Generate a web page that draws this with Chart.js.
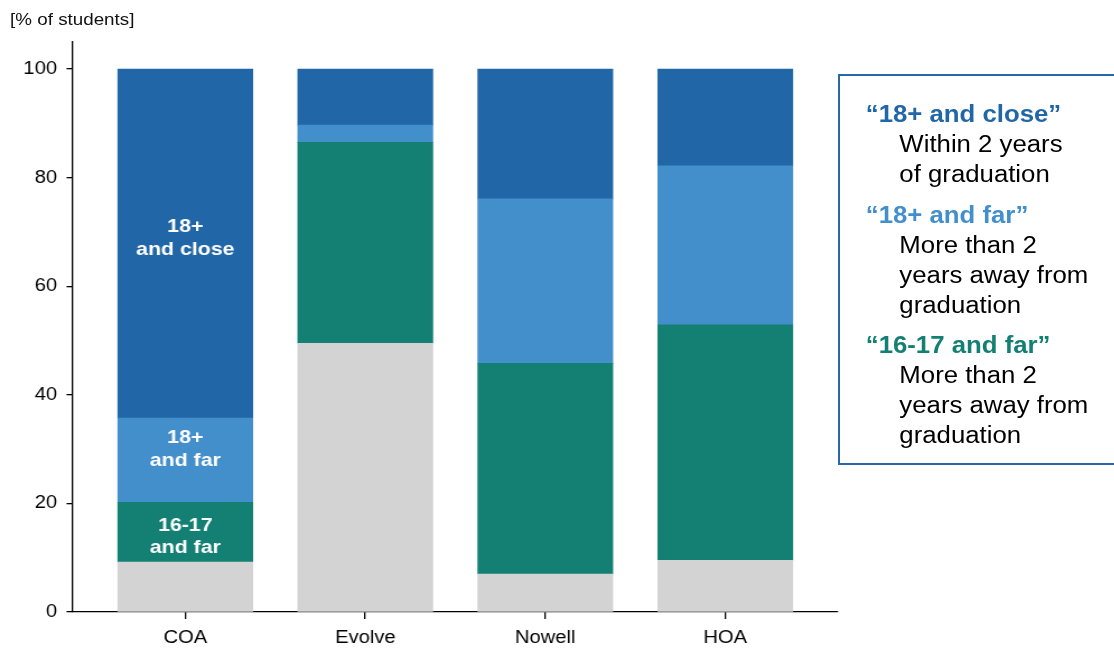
<!DOCTYPE html>
<html>
<head>
<meta charset="utf-8">
<script src="https://cdn.jsdelivr.net/npm/chart.js@4/dist/chart.umd.min.js"></script>
<style>
  html, body { margin: 0; padding: 0; background: #fff; overflow: hidden; }
  #stage {
    position: absolute; left: 0; top: 0; width: 995px; height: 650px;
    transform: scaleX(1.12); transform-origin: 0 0;
    font-family: "Liberation Sans", Arial, sans-serif; color: #000;
  }
  #chart { position: absolute; left: 0; top: 0; }
  #unit { position: absolute; left: 9px; top: 11px; font-size: 16.8px; line-height: 18px; color: #111; }
  #key {
    position: absolute; left: 748px; top: 74px; width: 300px; height: 391px;
    border: 2px solid #2767aa; padding: 23px 0 0 23px; box-sizing: border-box;
    font-size: 23px; line-height: 30px;
  }
  #key .group + .group { margin-top: 10.5px; }
  #key .head { font-weight: bold; }
  #key .body { padding-left: 30px; }
</style>
</head>
<body>
<div id="stage">
  <canvas id="chart" width="995" height="650"></canvas>
  <div id="unit">[% of students]</div>
  <div id="key">
    <div class="group">
      <div class="head" style="color:#2166a6">“18+ and close”</div>
      <div class="body">Within 2 years<br>of graduation</div>
    </div>
    <div class="group">
      <div class="head" style="color:#428fcc">“18+ and far”</div>
      <div class="body">More than 2<br>years away from<br>graduation</div>
    </div>
    <div class="group">
      <div class="head" style="color:#138073">“16-17 and far”</div>
      <div class="body">More than 2<br>years away from<br>graduation</div>
    </div>
  </div>
</div>
<script>
// Schools along the x axis
const categories = ['COA', 'Evolve', 'Nowell', 'HOA'];

// Share of students per group, % (stacked bottom to top)
const otherStudents   = [9.2, 49.5, 7.0, 9.5];
const youngFar        = [11.0, 37.0, 38.8, 43.4];   // 16-17 and far
const adultFar        = [15.5, 3.2, 30.3, 29.3];    // 18+ and far
const adultClose      = [64.3, 10.3, 23.9, 17.8];   // 18+ and close

// Y axis tick values
const yTicks = [0, 20, 40, 60, 80, 100];

// Text written inside the segments of the first bar
const noteLines = [['18+', 'and close'], ['18+', 'and far'], ['16-17', 'and far']];
const noteDatasets = [3, 2, 1];
const noteShift = [-7, -12.6, 3];
const noteBar = 0;

const FONT = '"Liberation Sans", Arial, sans-serif';
Chart.defaults.font.family = FONT;
Chart.defaults.color = '#000';

const toPoints = vals => vals.map((v, i) => ({ x: i, y: v }));

const barNotes = {
  id: 'barNotes',
  afterDatasetsDraw(chart) {
    const ctx = chart.ctx;
    ctx.save();
    ctx.fillStyle = '#ffffff';
    ctx.font = 'bold 19px ' + FONT;
    ctx.textAlign = 'center';
    ctx.textBaseline = 'alphabetic';
    noteDatasets.forEach((ds, k) => {
      const el = chart.getDatasetMeta(ds).data[noteBar];
      const p = el.getProps(['x', 'y', 'base'], true);
      const mid = (p.y + p.base) / 2 + noteShift[k];
      const lines = noteLines[k];
      const step = 22.5;
      const first = mid - (13.6 + step * (lines.length - 1)) / 2 + 13.6;
      lines.forEach((t, i) => ctx.fillText(t, p.x, first + i * step));
    });
    ctx.restore();
  }
};

new Chart(document.getElementById('chart'), {
  type: 'bar',
  data: {
    datasets: [
      { label: 'Other', data: toPoints(otherStudents), backgroundColor: '#d3d3d3' },
      { label: '16-17 and far', data: toPoints(youngFar), backgroundColor: '#138073' },
      { label: '18+ and far', data: toPoints(adultFar), backgroundColor: '#428fcc' },
      { label: '18+ and close', data: toPoints(adultClose), backgroundColor: '#2166a6' }
    ]
  },
  options: {
    responsive: false,
    animation: false,
    devicePixelRatio: 1,
    layout: { padding: { top: 42, right: 247, left: 0, bottom: 0 } },
    datasets: { bar: { barThickness: 120.5, borderWidth: 0 } },
    plugins: { legend: { display: false }, tooltip: { enabled: false } },
    scales: {
      x: {
        type: 'linear',
        offset: false,
        stacked: true,
        min: -0.625,
        max: 3.625,
        afterBuildTicks: s => { s.ticks = categories.map((_, i) => ({ value: i })); },
        afterFit: s => { s.height = 38; },
        ticks: {
          autoSkip: false, maxRotation: 0, padding: 8,
          font: { size: 18 }, color: '#000',
          callback: v => categories[v]
        },
        grid: { display: true, offset: false, drawOnChartArea: false, drawTicks: true, tickLength: 7, color: '#000', lineWidth: 1.3 },
        border: { display: true, color: '#000', width: 1.3 }
      },
      y: {
        stacked: true,
        min: 0,
        max: 105,
        afterBuildTicks: s => { s.ticks = yTicks.map(v => ({ value: v })); },
        afterFit: s => { s.width = 65; },
        ticks: { padding: 8.5, font: { size: 18 }, color: '#000' },
        grid: { display: true, drawOnChartArea: false, drawTicks: true, tickLength: 5.6, color: '#000', lineWidth: 1.3 },
        border: { display: true, color: '#000', width: 1.3 }
      }
    }
  },
  plugins: [barNotes]
});
</script>
</body>
</html>
